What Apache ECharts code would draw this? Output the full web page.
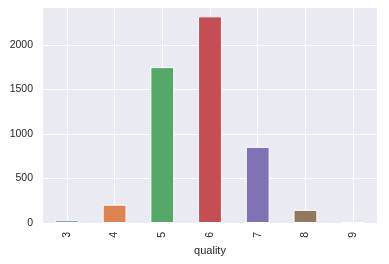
<!DOCTYPE html>
<html><head><meta charset="utf-8">
<script src="https://cdn.jsdelivr.net/npm/echarts@6/dist/echarts.min.js"></script>
<style>html,body{margin:0;padding:0;background:#fff}#c{width:389px;height:264px}</style>
</head><body><div id="c"></div>
<script>
const categories = ['3','4','5','6','7','8','9'];
const counts = [30, 206, 1752, 2323, 856, 148, 5];
const yTicks = [0, 500, 1000, 1500, 2000];
const palette = ['#4C72B0','#DD8452','#55A868','#C44E52','#8172B3','#937860','#DA8BC3'];
const chart = echarts.init(document.getElementById('c'), null, {renderer:'canvas'});
const font = 'Liberation Sans, Arial, sans-serif';
chart.setOption({
  animation:false,
  grid:{left:43,right:12,top:7,bottom:41,show:true,backgroundColor:'#EAEAF2',borderWidth:0},
  xAxis:{type:'category',data:categories,boundaryGap:true,
    name:'quality',nameLocation:'middle',nameGap:20,
    nameTextStyle:{fontFamily:font,fontSize:11,color:'#262626'},
    axisLine:{show:false},axisTick:{show:false,alignWithLabel:true},
    axisLabel:{rotate:90,margin:9,fontFamily:font,fontSize:10.5,color:'#262626'},
    splitLine:{show:true,alignWithLabel:true,lineStyle:{color:'#fff',width:1}}},
  yAxis:{type:'value',min:0,max:2428,interval:500,
    axisLine:{show:false},axisTick:{show:false},
    axisLabel:{showMaxLabel:false,margin:10,fontFamily:font,fontSize:10.5,color:'#262626',
      formatter:v=>yTicks.includes(v)?String(v):''},
    splitLine:{show:true,lineStyle:{color:'#fff',width:1}}},
  series:[{type:'bar',barWidth:'50%',
    data:counts.map((v,i)=>({value:v,itemStyle:{color:palette[i]}})),
    itemStyle:{borderColor:'#fff',borderWidth:1}}]
});
</script></body></html>
